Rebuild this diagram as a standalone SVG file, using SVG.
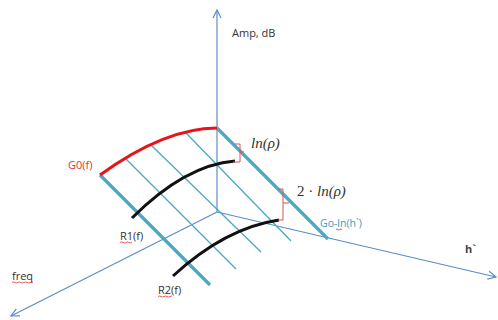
<svg xmlns="http://www.w3.org/2000/svg" width="498" height="320" viewBox="0 0 498 320">
<defs>
<style>
.axis{stroke:#5a8ec6;stroke-width:1.2;fill:none}
.thick{stroke:#4aa8c4;stroke-width:3.2;fill:none}
.thin{stroke:#4aa8c4;stroke-width:1.3;fill:none}
.red{stroke:#e8141b;stroke-width:3;fill:none}
.blk{stroke:#111;stroke-width:3;fill:none}
.brk{stroke:#d9534f;stroke-width:1;fill:none}
.sq{stroke:#e03030;stroke-width:0.8;fill:none}
.lbl{font-family:"Open Sans","Liberation Sans",sans-serif;font-size:11px;fill:#333}
.math{font-family:"Liberation Serif","DejaVu Serif",serif;font-size:15px;fill:#333}
</style>
<marker id="arr" markerWidth="10" markerHeight="10" refX="9" refY="5" orient="auto" markerUnits="userSpaceOnUse">
<path d="M1,1 L9,5 L1,9" fill="none" stroke="#5a8ec6" stroke-width="1.2"/>
</marker>
</defs>
<g id="connectors">
<line class="axis" x1="217" y1="212" x2="217" y2="10" marker-end="url(#arr)"/>
<line class="axis" x1="217" y1="212" x2="11" y2="316" marker-end="url(#arr)"/>
<line class="axis" x1="217" y1="212" x2="496" y2="277" marker-end="url(#arr)"/>
</g>
<g id="surface">
<line class="thin" x1="126" y1="159" x2="236" y2="269"/>
<line class="thin" x1="151" y1="145" x2="261" y2="252"/>
<line class="thin" x1="185" y1="132" x2="291" y2="241"/>
<line class="thick" x1="100" y1="175" x2="210" y2="285"/>
<line class="thick" x1="217" y1="128" x2="328" y2="239"/>
</g>
<g id="G0">
<path class="red" d="M100,175 Q165,128 217,128"/>
<text class="lbl" x="68" y="169" style="fill:#e03030">G0(f)</text>
</g>
<g id="R1">
<path class="blk" d="M132,218 Q185,165 235,161"/>
<text class="lbl" x="120" y="240">R1(f)</text>
<path class="sq" d="M120,242.5 q1.5,-1 3,0 t3,0 t3,0 t3,0"/>
</g>
<g id="R2">
<path class="blk" d="M173,276 Q225,228 279,220"/>
<text class="lbl" x="158" y="294">R2(f)</text>
<path class="sq" d="M158,296.5 q1.5,-1 3,0 t3,0 t3,0 t3,0 t2,0"/>
</g>
<g id="ln1">
<path class="brk" d="M235,144 H240 V162 H233 M240,152 H244"/>
<text class="math" x="251" y="148" font-style="italic">ln(ρ)</text>
</g>
<g id="ln2">
<path class="brk" d="M278,189 H283 V220 H278 M283,203 H289"/>
<text class="math" x="297" y="196"><tspan>2 · </tspan><tspan font-style="italic">ln(ρ)</tspan></text>
</g>
<g id="Go">
<text class="lbl" x="320" y="227" style="fill:#3a9cbf;font-size:10.5px">Go-ln(h`)</text>
<path class="sq" d="M336,229.5 q1,-1 2,0 t2,0 t2,0"/>
</g>
<g id="axis-labels">
<text class="lbl" x="232" y="37">Amp, dB</text>
<text class="lbl" x="465" y="253" style="font-weight:bold;fill:#444">h`</text>
<text class="lbl" x="12" y="280">freq</text>
<path class="sq" d="M12,282.5 q1.5,-1 3,0 t3,0 t3,0 t3,0 t3,0 t3,0 t3,0"/>
</g>
</svg>
